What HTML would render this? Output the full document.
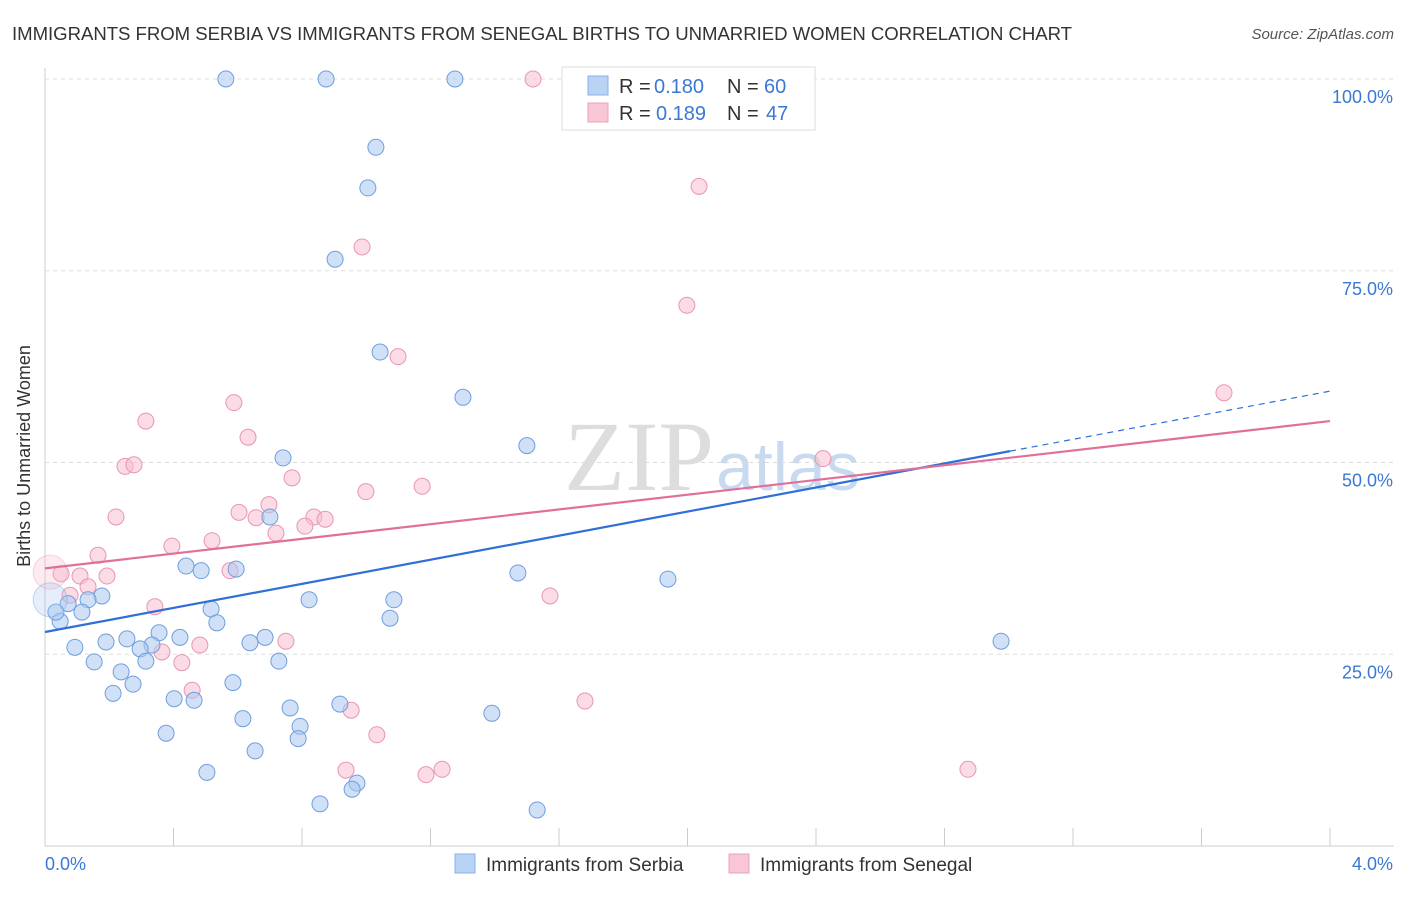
<!DOCTYPE html>
<html><head><meta charset="utf-8"><style>
body{margin:0;background:#fff;font-family:"Liberation Sans",sans-serif}
svg text{font-family:"Liberation Sans",sans-serif}
</style></head><body>
<svg id="c" width="1406" height="892">
<text x="12" y="40" font-size="18.6" fill="#333" textLength="1060">IMMIGRANTS FROM SERBIA VS IMMIGRANTS FROM SENEGAL BIRTHS TO UNMARRIED WOMEN CORRELATION CHART</text>
<text x="1394" y="39" font-size="15" fill="#555" font-style="italic" text-anchor="end">Source: ZipAtlas.com</text>
<text x="30" y="456" font-size="18" fill="#333" text-anchor="middle" transform="rotate(-90 30 456)">Births to Unmarried Women</text>
<text x="714" y="490" font-size="100" fill="#ddd" text-anchor="end" style="font-family:'Liberation Serif',serif">ZIP</text>
<text x="716" y="490" font-size="68" fill="#c8daf0">atlas</text>
<g id="grid"></g><g id="pts"></g><g id="lines"></g>
<g>
<rect x="562" y="67" width="253" height="63" fill="#fff" stroke="#ddd"/>
<rect x="588" y="76" width="20" height="19" fill="#b9d3f5" stroke="#8ab0e6"/>
<rect x="588" y="103" width="20" height="19" fill="#f9c6d6" stroke="#eca0ba"/>
<text x="619" y="93" font-size="20" fill="#333">R =</text>
<text x="654" y="93" font-size="20" fill="#3b78d4">0.180</text>
<text x="727" y="93" font-size="20" fill="#333">N =</text>
<text x="764" y="93" font-size="20" fill="#3b78d4">60</text>
<text x="619" y="120" font-size="20" fill="#333">R =</text>
<text x="656" y="120" font-size="20" fill="#3b78d4">0.189</text>
<text x="727" y="120" font-size="20" fill="#333">N =</text>
<text x="766" y="120" font-size="20" fill="#3b78d4">47</text>
</g>
<g>
<rect x="455" y="854" width="20" height="19" fill="#b9d3f5" stroke="#8ab0e6"/>
<text x="486" y="871" font-size="19" fill="#333">Immigrants from Serbia</text>
<rect x="729" y="854" width="20" height="19" fill="#f9c6d6" stroke="#eca0ba"/>
<text x="760" y="871" font-size="19" fill="#333">Immigrants from Senegal</text>
</g>
</svg>
<script>
const xTicks=[0,0.4,0.8,1.2,1.6,2.0,2.4,2.8,3.2,3.6,4.0];
const yTicks=[25,50,75,100];
const yTickLabels=["25.0%","50.0%","75.0%","100.0%"];
const serbiaX=[0.563,0.875,1.276,1.030,1.005,0.903,1.043,1.301,1.500,0.741,0.700,1.472,1.939,2.976,0.595,0.439,0.486,0.177,0.134,0.072,0.115,0.047,0.034,0.517,0.535,0.822,1.086,1.074,0.355,0.420,0.255,0.190,0.333,0.296,0.093,0.638,0.685,0.153,0.314,0.728,0.237,0.274,0.585,0.212,0.402,0.464,0.918,0.763,1.391,0.616,0.794,0.377,0.788,0.654,0.504,0.971,0.956,0.856,1.532,0.016];
const serbiaY=[100,100,100,91.1,85.8,76.5,64.4,58.5,52.2,50.6,42.9,35.6,34.8,26.7,36.1,36.5,35.9,32.6,32.1,31.6,30.5,29.3,30.5,30.9,29.1,32.1,32.1,29.7,27.8,27.2,27.0,26.6,26.2,25.7,25.9,26.5,27.2,24.0,24.1,24.1,22.7,21.1,21.3,19.9,19.2,19.0,18.5,18.0,17.3,16.6,15.6,14.7,14.0,12.4,9.6,8.2,7.4,5.5,4.7,32.1];
const senegalX=[1.519,2.036,0.987,1.998,1.099,3.670,0.314,0.588,0.632,0.249,0.277,2.422,0.769,1.174,0.999,0.221,0.604,0.697,0.657,0.837,0.872,0.809,0.719,0.395,0.520,0.165,0.576,0.109,0.193,0.050,0.134,0.078,1.572,0.342,0.750,0.482,0.364,0.426,0.458,1.681,0.953,1.033,0.937,1.236,1.186,2.873,0.016];
const senegalY=[100,86.0,78.1,70.5,63.8,59.1,55.4,57.8,53.3,49.5,49.7,50.5,48.0,46.9,46.2,42.9,43.5,44.5,42.8,42.9,42.6,41.7,40.8,39.1,39.8,37.9,35.9,35.2,35.2,35.5,33.8,32.7,32.6,31.2,26.7,26.2,25.3,23.9,20.3,18.9,17.7,14.5,9.9,10.0,9.3,10.0,35.7];
const serbiaTrend=[27.9,59.3];const senegalTrend=[36.2,55.4];
const X=v=>45+v/4*1285, Y=v=>846-v*7.67;
const NS="http://www.w3.org/2000/svg";
function mk(t,a,p){const e=document.createElementNS(NS,t);for(const k in a)e.setAttribute(k,a[k]);p.appendChild(e);return e;}
const g=document.getElementById('grid');
let ax=mk('line',{x1:45,y1:68,x2:45,y2:846,stroke:'#ccc'},g);

let bx=mk('line',{x1:45,y1:846,x2:1394,y2:846,stroke:'#ccc'},g);

xTicks.forEach(v=>{const l=mk('line',{x1:X(v),y1:828,x2:X(v),y2:846,stroke:'#ccc'},g);
});
yTicks.forEach((v,i)=>{const l=mk('line',{x1:45,y1:Y(v),x2:1394,y2:Y(v),stroke:'#ddd','stroke-dasharray':'4,4'},g);

const t=mk('text',{x:1393,y:Y(v)+24,'font-size':18,fill:'#3b78d4','text-anchor':'end'},g);t.textContent=yTickLabels[i];
});
let t0=mk('text',{x:45,y:870,'font-size':18,fill:'#3b78d4'},g);t0.textContent="0.0%";

let t1=mk('text',{x:1393,y:870,'font-size':18,fill:'#3b78d4','text-anchor':'end'},g);t1.textContent="4.0%";

const p=document.getElementById('pts');
function pts(xs,ys,fill,stroke,name){xs.forEach((x,i)=>{const big=i===xs.length-1;
const c=mk('circle',{cx:X(x),cy:Y(ys[i]),r:big?17:8,fill:fill,'fill-opacity':big?0.3:0.55,stroke:stroke,'stroke-opacity':big?0.4:1,'stroke-width':1},p);
});}
pts(senegalX,senegalY,'#f7bdd0','#e896b2','senegal-point');
pts(serbiaX,serbiaY,'#a9c8f0','#6f9ede','serbia-point');
const L=document.getElementById('lines');
const sb=v=>serbiaTrend[0]+(serbiaTrend[1]-serbiaTrend[0])*v/4;
let l1=mk('line',{x1:X(0),y1:Y(sb(0)),x2:X(3.004),y2:Y(sb(3.004)),stroke:'#2f6fd6','stroke-width':2.2},L);

let l2=mk('line',{x1:X(3.004),y1:Y(sb(3.004)),x2:X(4),y2:Y(sb(4)),stroke:'#2f6fd6','stroke-width':1.2,'stroke-dasharray':'6,5'},L);

let l3=mk('line',{x1:X(0),y1:Y(senegalTrend[0]),x2:X(4),y2:Y(senegalTrend[1]),stroke:'#e0709a','stroke-width':2.2},L);

</script>
</body></html>
